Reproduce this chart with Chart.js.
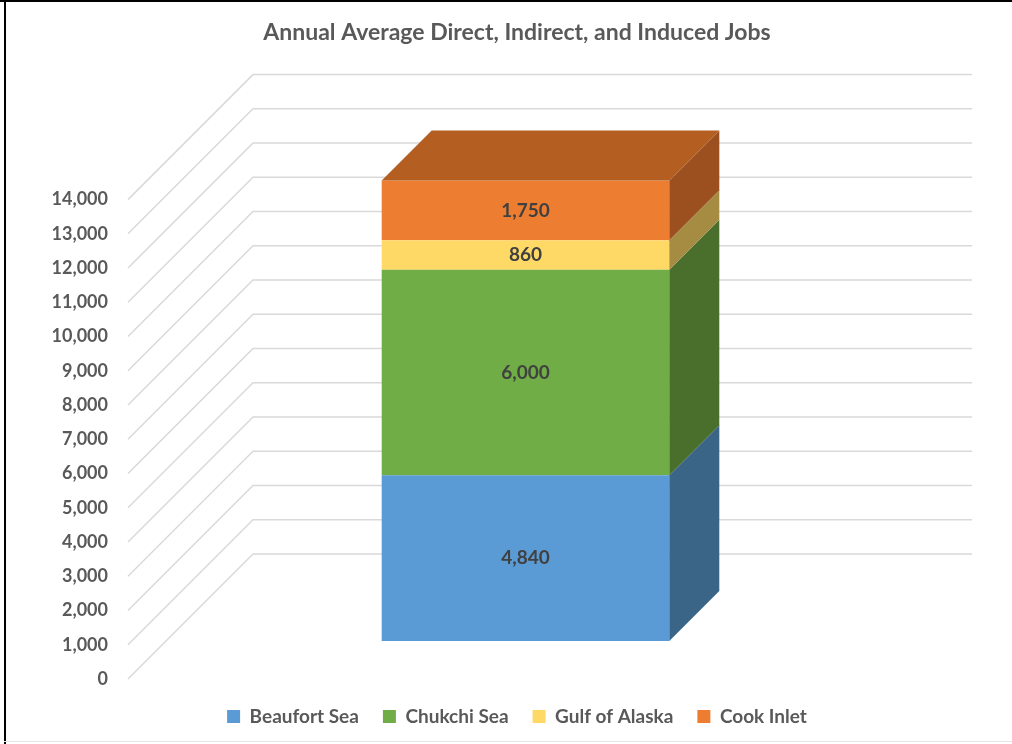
<!DOCTYPE html>
<html>
<head>
<meta charset="utf-8">
<title>Annual Average Direct, Indirect, and Induced Jobs</title>
<script src="https://cdn.jsdelivr.net/npm/chart.js@4.4.1/dist/chart.umd.min.js"></script>
<style>
    html, body { margin: 0; padding: 0; background: #ffffff; }
    #wrap { position: relative; width: 1012px; height: 744px; }
</style>
</head>
<body>
<div id="wrap"><canvas id="jobsChart"></canvas></div>
<script>
// Jobs by planning area (one stacked column)
const categories = ['Jobs'];
const seriesNames = ['Beaufort Sea', 'Chukchi Sea', 'Gulf of Alaska', 'Cook Inlet'];
const beaufortSea = [4840];
const chukchiSea = [6000];
const gulfOfAlaska = [860];
const cookInlet = [1750];
const tickValues = [0, 1000, 2000, 3000, 4000, 5000, 6000, 7000, 8000, 9000, 10000, 11000, 12000, 13000, 14000];

const FONT = 'Lato, "Open Sans", sans-serif';
const TEXT_GREY = '#595959';
const frontColors = ['#5B9BD5', '#70AD47', '#FFD966', '#ED7D31'];
const sideColors = ['#3A6587', '#4A6F2D', '#A68C42', '#9C501F'];
const topColors = ['#4A7FB0', '#5D8F3A', '#D2B354', '#B45E22'];

// pseudo 3D depths, in px
const DEPTH_BAR = 50;    // column depth
const DEPTH_BACK = 87;   // back wall behind the column face
const DEPTH_FRONT = 38;  // floor edge in front of the column face

function fillPolygon(ctx, pts, color) {
    ctx.beginPath();
    ctx.moveTo(pts[0][0], pts[0][1]);
    for (let i = 1; i < pts.length; i++) ctx.lineTo(pts[i][0], pts[i][1]);
    ctx.closePath();
    ctx.fillStyle = color;
    ctx.fill();
}

// side wall + back wall gridlines, drawn behind the column
const wallsPlugin = {
    id: 'walls',
    beforeDatasetsDraw(chart) {
        const { ctx, chartArea: area, scales: { y } } = chart;
        ctx.save();
        ctx.strokeStyle = '#D9D9D9';
        ctx.lineWidth = 1.5;
        y.ticks.forEach(t => {
            const py = y.getPixelForValue(t.value);
            ctx.beginPath();
            ctx.moveTo(area.left - DEPTH_FRONT, py + DEPTH_FRONT);
            ctx.lineTo(area.left + DEPTH_BACK, py - DEPTH_BACK);
            ctx.lineTo(area.right + DEPTH_BACK, py - DEPTH_BACK);
            ctx.stroke();
        });
        ctx.restore();
    }
};

// right side and top faces of the stacked column, then the value labels
const boxPlugin = {
    id: 'box3d',
    afterDatasetsDraw(chart) {
        const ctx = chart.ctx;
        const d = DEPTH_BAR;
        let top = null;
        const labels = [];

        ctx.save();
        chart.data.datasets.forEach((ds, i) => {
            const meta = chart.getDatasetMeta(i);
            meta.data.forEach((bar, j) => {
                const { x, y, base, width } = bar.getProps(['x', 'y', 'base', 'width'], true);
                const left = x - width / 2;
                const right = x + width / 2;
                fillPolygon(ctx, [[right, y], [right + d, y - d], [right + d, base - d], [right, base]], sideColors[i]);
                if (!top || y < top.y) top = { left, right, y, i };
                labels.push({ x, y: (y + base) / 2, text: ds.data[j].toLocaleString('en-US') });
            });
        });

        if (top) {
            fillPolygon(ctx, [[top.left, top.y], [top.left + d, top.y - d], [top.right + d, top.y - d], [top.right, top.y]], topColors[top.i]);
        }

        ctx.font = 'bold 19px ' + FONT;
        ctx.fillStyle = '#404040';
        ctx.textAlign = 'center';
        ctx.textBaseline = 'middle';
        labels.forEach(l => ctx.fillText(l.text, l.x, l.y));
        ctx.restore();
    }
};

// chart frame
const framePlugin = {
    id: 'frame',
    afterDraw(chart) {
        const ctx = chart.ctx;
        ctx.save();
        ctx.fillStyle = '#000000';
        ctx.fillRect(0, 0, chart.width, 2);
        ctx.fillRect(4, 0, 2, chart.height);
        ctx.fillStyle = '#E6E6E6';
        ctx.fillRect(4, chart.height - 3, chart.width - 4, 1);
        ctx.restore();
    }
};

const seriesValues = [beaufortSea, chukchiSea, gulfOfAlaska, cookInlet];
const datasets = seriesNames.map((name, i) => ({
    label: name,
    data: seriesValues[i],
    backgroundColor: frontColors[i],
    borderWidth: 0,
    barPercentage: 0.4,
    categoryPercentage: 1.0
}));

new Chart(document.getElementById('jobsChart'), {
    type: 'bar',
    data: { labels: categories, datasets: datasets },
    plugins: [wallsPlugin, boxPlugin, framePlugin],
    options: {
        responsive: true,
        maintainAspectRatio: false,
        animation: false,
        layout: { padding: { left: 30, right: 8, top: 0, bottom: 8 } },
        plugins: {
            title: {
                display: true,
                text: 'Annual Average Direct, Indirect, and Induced Jobs',
                color: TEXT_GREY,
                font: { family: FONT, size: 23, weight: 'bold' },
                padding: { top: 19, bottom: 115 }
            },
            legend: {
                position: 'bottom',
                labels: {
                    color: TEXT_GREY,
                    font: { family: FONT, size: 19, weight: 'bold' },
                    boxWidth: 13,
                    boxHeight: 13,
                    padding: 24
                }
            },
            tooltip: { enabled: false }
        },
        scales: {
            x: {
                stacked: true,
                grid: { display: false, drawTicks: false },
                border: { display: false },
                ticks: { display: false },
                afterFit(scale) {
                    const legend = scale.chart.legend;
                    const legendHeight = legend && legend.height ? legend.height : 53;
                    scale.height = Math.max(0, 744 - 8 - legendHeight - 641);
                }
            },
            y: {
                stacked: true,
                min: 0,
                max: 14000,
                grid: { display: false, drawTicks: false },
                border: { display: false },
                afterBuildTicks(scale) {
                    scale.ticks = tickValues.map(v => ({ value: v }));
                },
                afterFit(scale) {
                    scale.width = 136;
                },
                ticks: {
                    autoSkip: false,
                    color: TEXT_GREY,
                    font: { family: FONT, size: 18, weight: 'bold' },
                    padding: 58,
                    labelOffset: 38,
                    callback: v => v.toLocaleString('en-US')
                }
            },
            // empty right-hand margin so the plot sits left of centre
            yRight: {
                position: 'right',
                min: 0,
                max: 1,
                grid: { display: false, drawTicks: false },
                border: { display: false },
                ticks: { display: false },
                afterFit(scale) {
                    scale.width = 119;
                }
            }
        }
    }
});
</script>
</body>
</html>
